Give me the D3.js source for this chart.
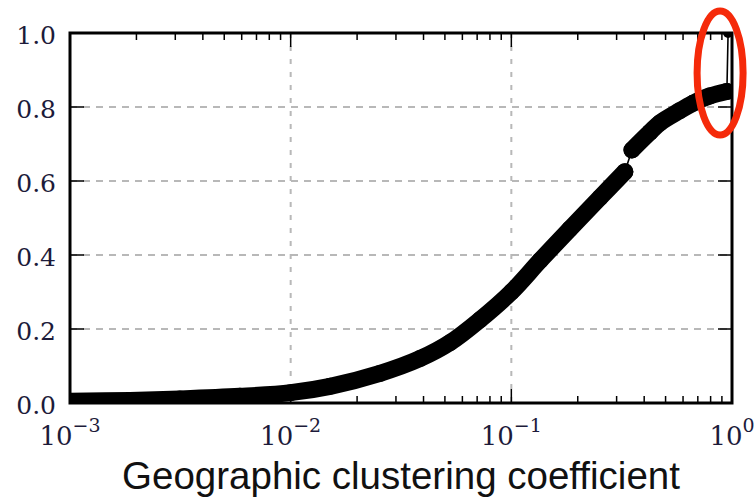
<!DOCTYPE html>
<html>
<head>
<meta charset="utf-8">
<script src="https://cdn.jsdelivr.net/npm/d3@7"></script>
<style>
  body { margin: 0; background: #fff; }
</style>
</head>
<body>
<div id="vis"></div>
<script>
const FRAME_WIDTH = 755;
const FRAME_HEIGHT = 501;
const MARGINS = {left: 70, right: 23, top: 33, bottom: 98};

const VIS_WIDTH = FRAME_WIDTH - MARGINS.left - MARGINS.right;
const VIS_HEIGHT = FRAME_HEIGHT - MARGINS.top - MARGINS.bottom;

// values (x = geographic clustering coefficient, y = cumulative fraction)
const lowerX = [0.001, 0.00187, 0.00315, 0.00589, 0.01, 0.0151, 0.0254, 0.0386, 0.0527, 0.0721, 0.1, 0.135, 0.184, 0.252, 0.327];
const lowerY = [0.005, 0.007, 0.011, 0.018, 0.028, 0.045, 0.08, 0.12, 0.163, 0.225, 0.30, 0.385, 0.47, 0.555, 0.625];
const upperX = [0.352, 0.425, 0.471, 0.58, 0.665, 0.794, 0.948];
const upperY = [0.684, 0.732, 0.757, 0.79, 0.81, 0.83, 0.842];
const spikeX = [0.96];
const spikeY = [1.0];

const xMajorTicks = [0.001, 0.01, 0.1, 1];
const xTickExponents = ["\u22123", "\u22122", "\u22121", "0"];
const yTicks = [0, 0.2, 0.4, 0.6, 0.8, 1.0];
const yTickLabels = ["0.0", "0.2", "0.4", "0.6", "0.8", "1.0"];
const X_LABEL = "Geographic clustering coefficient";

const svg = d3.select("#vis")
  .append("svg")
    .attr("width", FRAME_WIDTH)
    .attr("height", FRAME_HEIGHT);

svg.append("rect")
  .attr("width", FRAME_WIDTH).attr("height", FRAME_HEIGHT)
  .attr("fill", "#fff");

const FRAME = svg.append("g")
  .attr("transform", `translate(${MARGINS.left},${MARGINS.top})`);

const x_scale = d3.scaleLog().domain([0.001, 1]).range([0, VIS_WIDTH]);
const y_scale = d3.scaleLinear().domain([0, 1]).range([VIS_HEIGHT, 0]);

FRAME.append("clipPath").attr("id", "plotclip")
  .append("rect").attr("width", VIS_WIDTH).attr("height", VIS_HEIGHT);

// grid
const GRID = FRAME.append("g")
  .attr("stroke", "#b8b8b8")
  .attr("stroke-width", 2)
  .attr("stroke-dasharray", "7,6");

GRID.selectAll(".hg")
  .data(yTicks.filter(d => d > 0 && d < 1))
  .join("line")
    .attr("x1", 0).attr("x2", VIS_WIDTH)
    .attr("y1", d => y_scale(d)).attr("y2", d => y_scale(d));

GRID.selectAll(".vg")
  .data(xMajorTicks.filter(d => d > 0.001 && d < 1))
  .join("line")
    .attr("x1", d => x_scale(d)).attr("x2", d => x_scale(d))
    .attr("y1", 0).attr("y2", VIS_HEIGHT)
    .attr("stroke-dasharray", "5,8");

// data
const lowerData = lowerX.map((d, i) => [d, lowerY[i]]);
const upperData = upperX.map((d, i) => [d, upperY[i]]);
const spikeData = spikeX.map((d, i) => [d, spikeY[i]]);
const allData = lowerData.concat(upperData, spikeData);

const line = d3.line()
  .x(d => x_scale(d[0]))
  .y(d => y_scale(d[1]))
  .curve(d3.curveCatmullRom.alpha(0.5));

const PLOT = FRAME.append("g").attr("clip-path", "url(#plotclip)");

// thin connecting line through every point
PLOT.append("path")
  .datum(allData)
  .attr("fill", "none")
  .attr("stroke", "#000")
  .attr("stroke-width", 1.6)
  .attr("d", d3.line().x(d => x_scale(d[0])).y(d => y_scale(d[1])));

// dense marker band
PLOT.selectAll(".band")
  .data([lowerData, upperData])
  .join("path")
    .attr("fill", "none")
    .attr("stroke", "#000")
    .attr("stroke-width", 17)
    .attr("stroke-linecap", "round")
    .attr("stroke-linejoin", "round")
    .attr("d", line);

PLOT.selectAll(".marker")
  .data(allData)
  .join("circle")
    .attr("cx", d => x_scale(d[0]))
    .attr("cy", d => y_scale(d[1]))
    .attr("r", d => d[1] === 1 ? 5 : 8.5)
    .attr("fill", "#000");

// ticks (inward, on all four sides)
const minorTicks = x_scale.ticks().filter(d => !xMajorTicks.some(m => Math.abs(m - d) < 1e-9));

const TICKS = FRAME.append("g").attr("stroke", "#000").attr("stroke-width", 1.5);
[[0, -1], [VIS_HEIGHT, 1]].forEach(([y0, s]) => {
  TICKS.selectAll(null).data(xMajorTicks).join("line")
    .attr("x1", d => x_scale(d)).attr("x2", d => x_scale(d))
    .attr("y1", y0).attr("y2", y0 + s * -14);
  TICKS.selectAll(null).data(minorTicks).join("line")
    .attr("x1", d => x_scale(d)).attr("x2", d => x_scale(d))
    .attr("y1", y0).attr("y2", y0 + s * -7);
});
[[0, 1], [VIS_WIDTH, -1]].forEach(([x0, s]) => {
  TICKS.selectAll(null).data(yTicks).join("line")
    .attr("x1", x0).attr("x2", x0 + s * 14)
    .attr("y1", d => y_scale(d)).attr("y2", d => y_scale(d));
});

// frame
FRAME.append("rect")
  .attr("width", VIS_WIDTH).attr("height", VIS_HEIGHT)
  .attr("fill", "none")
  .attr("stroke", "#000")
  .attr("stroke-width", 3);

// y tick labels
FRAME.selectAll(".ylab")
  .data(yTicks)
  .join("text")
    .attr("x", -14)
    .attr("y", d => y_scale(d) + 11)
    .attr("text-anchor", "end")
    .attr("font-family", "DejaVu Serif")
    .attr("font-size", 25)
    .attr("fill", "#1d1b3a")
    .text((d, i) => yTickLabels[i]);

// x tick labels 10^n
const xl = FRAME.selectAll(".xlab")
  .data(xMajorTicks)
  .join("text")
    .attr("x", d => x_scale(d))
    .attr("y", VIS_HEIGHT + 42)
    .attr("text-anchor", "middle")
    .attr("font-family", "DejaVu Serif")
    .attr("fill", "#1d1b3a");
xl.append("tspan").attr("font-size", 26).text("10");
xl.append("tspan").attr("font-size", 19).attr("dy", -13).text((d, i) => xTickExponents[i]);

// x axis label
svg.append("text")
  .attr("x", MARGINS.left + VIS_WIDTH / 2)
  .attr("y", 489)
  .attr("text-anchor", "middle")
  .attr("font-family", "Liberation Sans, Arial, sans-serif")
  .attr("font-size", 38.5)
  .attr("fill", "#111")
  .text(X_LABEL);

// red ellipse highlighting the point at 1.0
svg.append("ellipse")
  .attr("cx", MARGINS.left + x_scale(spikeX[0]) - 8)
  .attr("cy", 73)
  .attr("rx", 23)
  .attr("ry", 62)
  .attr("fill", "none")
  .attr("stroke", "#f52a0a")
  .attr("stroke-width", 7);
</script>
</body>
</html>
